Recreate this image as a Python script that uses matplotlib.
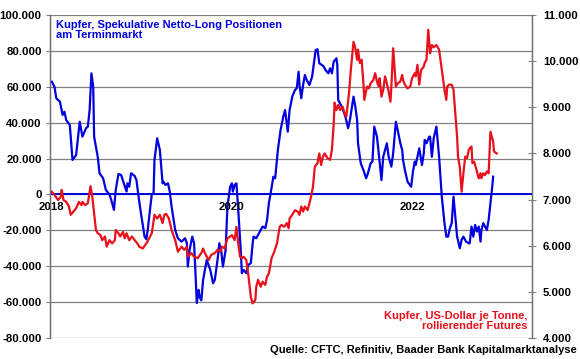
# -*- coding: utf-8 -*-
# Kupfer: spekulative Netto-Long Positionen vs. Kupferpreis
import numpy as np
import matplotlib.pyplot as plt
from matplotlib.ticker import FuncFormatter

plt.rcParams['font.family'] = ['Liberation Sans', 'DejaVu Sans']
plt.rcParams['font.weight'] = 'bold'

# Netto-Long Positionen (Kontrakte, in Tausend), Zeit als Dezimaljahr
pos_t = [2018.00, 2018.03, 2018.05, 2018.09, 2018.12, 2018.14, 2018.16, 2018.20, 2018.23, 2018.27,
         2018.31, 2018.34, 2018.38, 2018.40, 2018.42, 2018.44, 2018.46, 2018.47, 2018.51, 2018.53,
         2018.57, 2018.60, 2018.64, 2018.66, 2018.69, 2018.71, 2018.74, 2018.77, 2018.80, 2018.83,
         2018.84, 2018.86, 2018.88, 2018.92, 2018.94, 2018.96, 2018.99, 2019.03, 2019.05, 2019.07,
         2019.09, 2019.11, 2019.13, 2019.14, 2019.17, 2019.20, 2019.23, 2019.24, 2019.26, 2019.29,
         2019.31, 2019.33, 2019.37, 2019.40, 2019.44, 2019.48, 2019.50, 2019.51, 2019.53, 2019.56,
         2019.58, 2019.60, 2019.61, 2019.63, 2019.64, 2019.66, 2019.68, 2019.72, 2019.76, 2019.79,
         2019.81, 2019.84, 2019.86, 2019.88, 2019.90, 2019.93, 2019.95, 2019.98, 2020.00, 2020.01,
         2020.03, 2020.05, 2020.07, 2020.10, 2020.11, 2020.13, 2020.16, 2020.18, 2020.21, 2020.23,
         2020.24, 2020.27, 2020.29, 2020.32, 2020.34, 2020.37, 2020.39, 2020.41, 2020.43, 2020.46,
         2020.48, 2020.50, 2020.51, 2020.54, 2020.57, 2020.59, 2020.62, 2020.64, 2020.67, 2020.70,
         2020.72, 2020.74, 2020.75, 2020.77, 2020.79, 2020.81, 2020.83, 2020.86, 2020.89, 2020.91,
         2020.93, 2020.95, 2020.97, 2021.00, 2021.02, 2021.04, 2021.07, 2021.09, 2021.11, 2021.13,
         2021.16, 2021.17, 2021.18, 2021.20, 2021.22, 2021.26, 2021.29, 2021.31, 2021.35, 2021.37,
         2021.39, 2021.40, 2021.43, 2021.46, 2021.49, 2021.51, 2021.54, 2021.56, 2021.58, 2021.61,
         2021.63, 2021.66, 2021.68, 2021.72, 2021.74, 2021.77, 2021.79, 2021.82, 2021.84, 2021.87,
         2021.89, 2021.90, 2021.92, 2021.95, 2021.99, 2022.01, 2022.03, 2022.04, 2022.06, 2022.08,
         2022.11, 2022.13, 2022.14, 2022.16, 2022.19, 2022.20, 2022.22, 2022.24, 2022.27, 2022.28,
         2022.30, 2022.33, 2022.36, 2022.38, 2022.40, 2022.42, 2022.44, 2022.46, 2022.48, 2022.50,
         2022.53, 2022.55, 2022.57, 2022.60, 2022.63, 2022.64, 2022.66, 2022.68, 2022.70, 2022.72,
         2022.74, 2022.76, 2022.77, 2022.79, 2022.81, 2022.83, 2022.85, 2022.87, 2022.89, 2022.90]
pos_k = [62.8, 60.0, 53.6, 51.7, 44.3, 46.1, 41.5, 38.7, 19.2, 22.0,
         40.5, 32.2, 36.9, 37.8, 47.0, 67.5, 60.0, 32.2, 21.0, 11.8,
         9.0, 2.5, 0.0, -3.0, -8.6, 2.5, 11.4, 10.8, 6.2, 1.6,
         6.2, 4.3, 11.8, 10.3, 8.0, 0.0, -10.5, -23.5, -25.0, -17.9,
         -8.6, 0.0, 0.7, 19.2, 31.3, 24.8, 6.2, 7.1, 5.3, 6.2,
         1.6, -6.8, -19.8, -24.4, -26.3, -24.4, -27.2, -40.2, -30.9, -23.5,
         -27.2, -49.5, -60.5, -53.2, -56.9, -59.0, -47.6, -36.5, -42.1, -49.5,
         -47.6, -36.5, -27.2, -30.9, -40.2, -30.9, -6.8, 4.3, 6.2, 1.6,
         5.3, 6.2, -8.6, -32.8, -43.9, -42.1, -43.9, -39.3, -38.3, -27.2,
         -23.5, -24.4, -22.6, -19.8, -17.9, -18.8, -14.2, -4.9, 0.7, 9.9,
         9.0, 19.2, 24.8, 35.9, 43.3, 47.0, 35.0, 47.0, 54.5, 58.2,
         59.2, 68.4, 61.0, 53.6, 61.0, 66.6, 63.8, 61.0, 65.6, 73.1,
         80.5, 80.9, 73.1, 72.1, 71.2, 69.3, 67.5, 70.3, 67.5, 74.0,
         75.9, 72.1, 52.6, 50.8, 48.9, 43.3, 36.9, 41.5, 54.5, 48.9,
         41.5, 28.5, 17.4, 13.6, 9.0, 11.8, 17.4, 18.3, 37.8, 32.2,
         22.9, 8.0, 21.0, 28.5, 21.0, 15.5, 22.9, 40.5, 35.9, 28.5,
         24.8, 19.2, 13.6, 7.1, 4.3, 12.7, 18.3, 16.4, 21.0, 25.7,
         16.4, 22.9, 30.4, 28.5, 32.2, 32.2, 21.0, 31.3, 37.8, 32.2,
         21.0, -1.2, -16.0, -23.5, -23.5, -18.8, -16.0, -1.2, -12.4, -23.5,
         -30.0, -25.3, -23.5, -26.3, -27.2, -27.2, -17.9, -23.5, -17.0, -20.7,
         -17.9, -26.3, -19.8, -16.0, -17.9, -19.8, -14.2, -4.9, 4.3, 9.9]

# Kupferpreis US-Dollar je Tonne
price_t = [2018.00, 2018.03, 2018.07, 2018.10, 2018.11, 2018.13, 2018.16, 2018.19, 2018.21, 2018.24,
           2018.27, 2018.30, 2018.33, 2018.34, 2018.37, 2018.40, 2018.43, 2018.45, 2018.47, 2018.49,
           2018.51, 2018.54, 2018.56, 2018.59, 2018.61, 2018.64, 2018.67, 2018.70, 2018.71, 2018.74,
           2018.76, 2018.79, 2018.81, 2018.83, 2018.86, 2018.89, 2018.92, 2018.95, 2018.97, 2019.01,
           2019.05, 2019.07, 2019.11, 2019.14, 2019.17, 2019.20, 2019.23, 2019.25, 2019.27, 2019.30,
           2019.33, 2019.37, 2019.40, 2019.44, 2019.47, 2019.50, 2019.51, 2019.55, 2019.58, 2019.62,
           2019.66, 2019.68, 2019.70, 2019.74, 2019.77, 2019.81, 2019.84, 2019.87, 2019.89, 2019.92,
           2019.95, 2019.98, 2020.00, 2020.03, 2020.05, 2020.07, 2020.09, 2020.11, 2020.13, 2020.16,
           2020.18, 2020.21, 2020.23, 2020.26, 2020.27, 2020.29, 2020.32, 2020.34, 2020.37, 2020.39,
           2020.41, 2020.44, 2020.47, 2020.50, 2020.53, 2020.55, 2020.58, 2020.61, 2020.63, 2020.64,
           2020.67, 2020.70, 2020.73, 2020.75, 2020.77, 2020.79, 2020.81, 2020.84, 2020.86, 2020.87,
           2020.90, 2020.92, 2020.95, 2020.97, 2020.99, 2021.01, 2021.03, 2021.06, 2021.09, 2021.11,
           2021.13, 2021.14, 2021.16, 2021.18, 2021.20, 2021.23, 2021.25, 2021.27, 2021.30, 2021.32,
           2021.35, 2021.37, 2021.39, 2021.40, 2021.42, 2021.44, 2021.46, 2021.47, 2021.50, 2021.52,
           2021.54, 2021.57, 2021.59, 2021.61, 2021.63, 2021.64, 2021.66, 2021.68, 2021.70, 2021.72,
           2021.74, 2021.76, 2021.77, 2021.79, 2021.82, 2021.84, 2021.87, 2021.89, 2021.90, 2021.92,
           2021.95, 2021.98, 2022.00, 2022.03, 2022.04, 2022.06, 2022.08, 2022.10, 2022.13, 2022.14,
           2022.16, 2022.18, 2022.20, 2022.22, 2022.24, 2022.27, 2022.30, 2022.33, 2022.36, 2022.38,
           2022.39, 2022.41, 2022.44, 2022.46, 2022.48, 2022.50, 2022.51, 2022.53, 2022.55, 2022.57,
           2022.59, 2022.61, 2022.63, 2022.64, 2022.66, 2022.67, 2022.69, 2022.71, 2022.74, 2022.76,
           2022.77, 2022.79, 2022.81, 2022.83, 2022.85, 2022.87, 2022.90, 2022.91, 2022.94]
price = [7170, 7100, 6990, 7060, 7210, 6990, 6950, 6850, 6670, 6740,
         6810, 6950, 6880, 6950, 6880, 6920, 7290, 7060, 6700, 6340,
         6270, 6230, 6120, 6200, 5980, 6120, 6050, 6120, 6340, 6270,
         6200, 6300, 6160, 6270, 6120, 6200, 6120, 6050, 5980, 5940,
         6050, 6120, 6270, 6670, 6590, 6670, 6490, 6670, 6690, 6590,
         6340, 6120, 5870, 5980, 5910, 5980, 5760, 5840, 5760, 5730,
         5840, 5940, 5840, 5690, 5800, 5840, 5910, 5870, 5980, 5940,
         6160, 6200, 6230, 6120, 6410, 6050, 5760, 5730, 5760, 5690,
         5400, 4890, 4750, 4820, 5110, 5260, 5110, 5220, 5150, 5330,
         5400, 5730, 5870, 6050, 6410, 6450, 6410, 6490, 6380, 6590,
         6670, 6770, 6740, 6670, 6850, 6740, 6850, 6770, 6920, 6990,
         7280, 7710, 7790, 8000, 7750, 7930, 8000, 7900, 7860, 8080,
         8650, 9100, 8940, 9050, 8940, 9010, 8870, 8800, 9310, 9810,
         10420, 10280, 10030, 10250, 9960, 10030, 9520, 9160, 9450, 9410,
         9520, 9590, 9740, 9560, 9450, 9630, 9230, 9380, 9670, 9520,
         9340, 9120, 9450, 10280, 9450, 9520, 9560, 9700, 9590, 9490,
         9410, 9450, 9630, 9740, 9670, 9920, 9490, 9810, 9880, 9960,
         10030, 10680, 10170, 10350, 10300, 10350, 10250, 9810, 9380, 9160,
         9450, 9490, 9490, 9380, 8870, 8360, 7930, 7710, 7170, 7570,
         7930, 7900, 8080, 8110, 8150, 7790, 7820, 7680, 7460, 7570,
         7460, 7570, 7530, 7610, 7570, 8470, 8260, 8040, 8000]

year_ticks = [2018, 2020, 2022]

BLUE = '#0000e0'
RED = '#e8101a'
GRID = '#808080'

fig = plt.figure(figsize=(5.8, 3.59), dpi=100)
ax = fig.add_axes([0.0862, 0.0585, 0.8308, 0.8997])
ax2 = ax.twinx()

ax.set_xlim(2017.98, 2023.33)
ax.set_ylim(-80000, 100000)
ax.set_yticks(np.arange(-80000, 100001, 20000))
ax.yaxis.grid(True, color=GRID, lw=0.9)
ax.set_axisbelow(True)
ax.axhline(0, color=BLUE, lw=1.4, zorder=2)
ax.plot(pos_t, np.array(pos_k) * 1000, color=BLUE, lw=1.6, zorder=3)

ax2.set_ylim(4000, 11000)
ax2.set_yticks(np.arange(4000, 11001, 1000))
ax2.plot(price_t, price, color=RED, lw=1.6)

fmt = FuncFormatter(lambda v, p: f"{v:,.0f}".replace(",", "."))
ax.yaxis.set_major_formatter(fmt)
ax2.yaxis.set_major_formatter(fmt)

ax.set_xticks([])
ax.tick_params(axis='y', length=3, color=GRID, labelsize=8.2, pad=3)
ax2.tick_params(axis='y', direction='inout', length=6, color=GRID, labelsize=8.2, pad=5)
for a in (ax, ax2):
    for s in a.spines.values():
        s.set_color('#6e6e6e')
        s.set_linewidth(0.9)
    a.spines['top'].set_visible(False)
    a.spines['bottom'].set_visible(False)

for y in year_ticks:
    ax.text(y, -4300, str(y), ha='center', va='top', fontsize=8.2, fontweight='bold')

ax.text(0.012, 0.985, "Kupfer, Spekulative Netto-Long Positionen\nam Terminmarkt",
        transform=ax.transAxes, ha='left', va='top', color=BLUE, fontsize=8,
        fontweight='bold', linespacing=1.05)
ax.text(0.99, 0.085, "Kupfer, US-Dollar je Tonne,\nrollierender Futures",
        transform=ax.transAxes, ha='right', va='top', color=RED, fontsize=8,
        fontweight='bold', linespacing=1.05)
fig.text(0.995, 0.01, "Quelle: CFTC, Refinitiv, Baader Bank Kapitalmarktanalyse",
         ha='right', va='bottom', fontsize=8, fontweight='bold')

fig.savefig('out.png', dpi=100)
